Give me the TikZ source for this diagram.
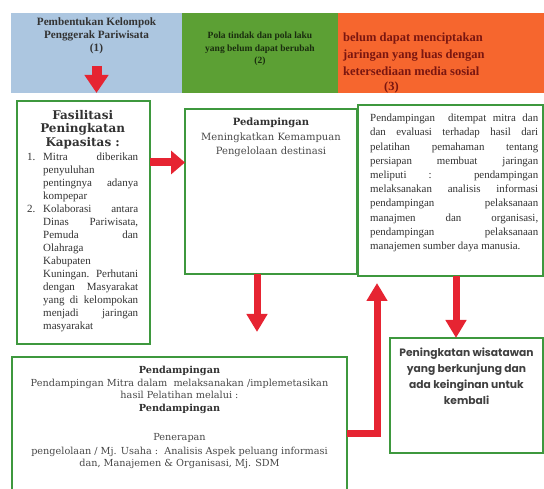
\documentclass[tikz,border=0pt]{standalone}
\usepackage{fontspec}
\setmainfont{Liberation Serif}
\newfontfamily\cambriafont{DejaVu Serif}
\newfontfamily\roundfont{Poppins}
\usepackage{tikz}
\usetikzlibrary{positioning, arrows.meta}
\definecolor{headblue}{RGB}{172,198,224}
\definecolor{headgreen}{RGB}{92,160,52}
\definecolor{headorange}{RGB}{246,102,46}
\definecolor{boxgreen}{RGB}{62,152,62}
\definecolor{arrowred}{RGB}{230,36,50}
\definecolor{textgray}{RGB}{50,50,50}
\definecolor{lightgray}{RGB}{72,72,72}
\definecolor{darkred}{RGB}{122,22,16}
\hyphenpenalty=10000
\exhyphenpenalty=10000
\tolerance=10000
\hbadness=10000
\tikzset{
	edge/.style={draw=arrowred, line width=7pt, -{Triangle[width=20pt, length=18pt]}},
	green box/.style={
		rectangle,
		draw=boxgreen,
		line width=2.5pt,
		inner sep=0pt,
		outer sep=0pt,
		anchor=north west
	},
	head cell/.style={
		rectangle,
		inner sep=0pt,
		outer sep=0pt,
		anchor=north west,
		minimum height=80pt
	},
	box text/.style={
		text=textgray,
		inner sep=0pt,
		anchor=north
	}
}
\newcommand{\headcell}[4]{% node name, fill, left x, width
	\node (#1) [head cell, fill=#2, minimum width=#4pt] at (#3,13) {}
}

\begin{document}
\begin{tikzpicture}[x=1pt, y=-1pt]
	\useasboundingbox (0,0) rectangle (544,489);
	\headcell{hd1}{headblue}{11}{171};
	\headcell{hd2}{headgreen}{182}{156};
	\headcell{hd3}{headorange}{338}{206};
	
	\node (hd1 txt) [box text, text=black!80, align=center, font=\bfseries\fontsize{11.2}{13}\selectfont] at ([yshift=-5pt]hd1.north) {Pembentukan Kelompok\\ Penggerak Pariwisata\\ (1)};
	\node (hd2 txt) [box text, text=black!72!headgreen, align=center, font=\bfseries\fontsize{9.5}{12.5}\selectfont] at ([yshift=-19pt]hd2.north) {Pola tindak dan pola laku\\ yang belum dapat berubah\\ (2)};
	\node (hd3 txt) [box text, anchor=north west, text=darkred, align=left, font=\bfseries\fontsize{12.5}{17}\selectfont] at ([xshift=5pt, yshift=-20pt]hd3.north west) {belum dapat menciptakan\\ jaringan yang luas dengan\\ ketersediaan media sosial\\[-2pt] \hspace*{41pt}(3)};
	
	\node (fasil) [green box, minimum width=133pt, minimum height=243pt] at (17,101) {};
	\node (fasil txt) [box text, anchor=north west, text width=111pt, align=justify, font=\fontsize{11}{13}\selectfont] at ([xshift=10pt, yshift=-9pt]fasil.north west) {%
		{\centering\cambriafont\bfseries\fontsize{12}{13.5}\selectfont Fasilitasi\\ Peningkatan\\ Kapasitas :\par}
		\vspace{1.5pt}
		\hangindent=16pt\hangafter=1\noindent\makebox[16pt][l]{1.}Mitra diberikan\linebreak penyuluhan\newline pentingnya adanya\linebreak kompepar\par
		\hangindent=16pt\hangafter=1\noindent\makebox[16pt][l]{2.}Kolaborasi antara\linebreak Dinas Pariwisata,\linebreak Pemuda dan\linebreak Olahraga\newline Kabupaten\newline Kuningan. Perhutani\linebreak dengan Masyarakat\linebreak yang di kelompokan\linebreak menjadi jaringan\linebreak masyarakat\par};
	
	\node (pend) [green box, minimum width=172pt, minimum height=165pt] at (185,109) {};
	\node (pend txt) [box text, text=lightgray, align=center, font=\cambriafont\fontsize{10}{14.5}\selectfont] at ([yshift=-9pt]pend.north) {\textbf{\color{textgray}Pedampingan}\\ Meningkatkan Kemampuan\\ Pengelolaan destinasi};
	
	\node (det) [green box, minimum width=185pt, minimum height=171pt] at (358,105) {};
	\node (det txt) [box text, anchor=north west, text width=168pt, align=justify, font=\fontsize{10.9}{14.2}\selectfont] at ([xshift=12pt, yshift=-9pt]det.north west) {Pendampingan\ \ ditempat mitra dan\linebreak dan evaluasi terhadap hasil dari\linebreak pelatihan pemahaman tentang\linebreak persiapan membuat jaringan\linebreak meliputi : pendampingan\linebreak melaksanakan analisis informasi\linebreak pendampingan pelaksanaan\linebreak manajmen dan organisasi,\linebreak pendampingan pelaksanaan\linebreak manajemen sumber daya manusia.};
	
	\node (impl) [green box, minimum width=335pt, minimum height=153pt] at (12,357) {};
	\node (impl txt) [box text, text=lightgray, align=center, font=\cambriafont\fontsize{9.7}{12.5}\selectfont] at ([yshift=-9pt]impl.north) {\textbf{\color{textgray}Pendampingan}\\ Pendampingan Mitra dalam\ \ melaksanakan /implemetasikan\\ hasil Pelatihan melalui :\\ \textbf{\color{textgray}Pendampingan}\\[17pt] Penerapan\\[1pt] pengelolaan / Mj. Usaha :\ \ Analisis Aspek peluang informasi\\ dan, Manajemen \& Organisasi, Mj. SDM};
	
	\node (hasil) [green box, minimum width=153pt, minimum height=115pt] at (390,338) {};
	\node (hasil txt) [box text, text=black!75, align=center, font=\roundfont\bfseries\fontsize{10.7}{16}\selectfont] at ([yshift=-10pt]hasil.north) {Peningkatan wisatawan\\ yang berkunjung dan\\ ada keinginan untuk\\ kembali};
	
	\coordinate (pend tip) at (257,332);
	\coordinate (det tip) at (377,283);
	
	\draw[edge, line width=10pt, -{Triangle[width=23pt, length=18pt]}] ([yshift=27pt]hd1.south) -- (hd1.south);
	\draw[edge, line width=8pt, -{Triangle[width=23pt, length=14pt]}] ([yshift=60pt]fasil.east) -- ([yshift=60pt]fasil.east -| pend.west);
	\draw[edge] ([xshift=-14pt]pend.south) -- (pend tip);
	\draw[edge] ([xshift=5.5pt]det.south) -- ([xshift=5.5pt]det.south |- hasil.north);
	\draw[edge] (impl.east) -| (det tip);
\end{tikzpicture}
\end{document}
